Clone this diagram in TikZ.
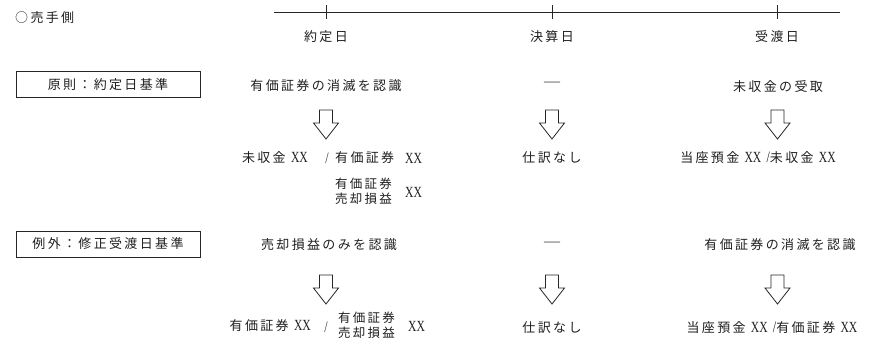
\documentclass[tikz,border=0pt]{standalone}
\usepackage{fontspec}
\setmainfont{Liberation Serif}
\newfontfamily\jp[LetterSpace=18]{Noto Sans CJK JP}
\newfontfamily\xxfont[FakeStretch=0.75]{Liberation Serif}
\newfontfamily\dvfont{DejaVu Sans}
\newcommand\xxmark{{\xxfont\fontsize{15.5}{16}\selectfont XX}}
\newcommand\slashmark{{\xxfont\fontsize{16}{16}\selectfont /}}
\begin{document}
\begin{tikzpicture}[x=1pt,y=-1pt,
  txt/.style={font=\jp\fontsize{13}{16}\selectfont, inner sep=0pt, text=black!88},
  plain/.style={font=\xxfont\fontsize{15.5}{16}\selectfont, inner sep=0pt, text=black!88},
  slashst/.style={font=\xxfont\fontsize{16}{16}\selectfont, inner sep=0pt, text=black!80},
  dashmark/.style={font=\dvfont\fontsize{18}{18}\selectfont, inner sep=0pt, text=black!45},
  labelbox/.style={draw=black!85, line width=0.9pt, minimum width=184pt, minimum height=26pt, inner sep=0pt,
    font=\jp\fontsize{13}{16}\selectfont, text=black!88},
  axis/.style={draw=black!85, line width=0.8pt},
  darr/.pic={\draw[black!85, line width=0.8pt, line join=miter]
     (-6.5,0) -- (6.5,0) -- (6.5,13) -- (12.5,13) -- (0,29) -- (-12.5,13) -- (-6.5,13) -- cycle;}
]
\useasboundingbox (0,0) rectangle (890,349);

% header
\node[txt, anchor=west] (side) at (15,18) {○売手側};

% timeline
\coordinate (tl) at (274,12);
\coordinate (tr) at (840,12);
\coordinate (t1) at (326,12);
\coordinate (t2) at (552,12);
\coordinate (t3) at (777,12);
\draw[axis] (tl) -- (tr);
\foreach \t in {t1,t2,t3}{\draw[axis] ([yshift=7pt]\t) -- ([yshift=-7pt]\t);}
\node[txt] (d1) at (326,37) {約定日};
\node[txt] (d2) at (552,37) {決算日};
\node[txt] (d3) at (777,37) {受渡日};

% row 1
\node[labelbox] (b1) at (108,84.5) {原則：約定日基準};
\node[txt] (h11) at (326,86) {有価証券の消滅を認識};
\node[dashmark] (h12) at (552,85) {—};
\node[txt] (h13) at (778,87) {未収金の受取};

\coordinate (a11) at (326,110);
\coordinate (a12) at (552,110);
\coordinate (a13) at (777.5,110);
\pic at (a11) {darr};
\pic at (a12) {darr};
\pic at (a13) {darr};

\node[txt, anchor=east] (e11a) at (308,158) {未収金\ \xxmark};
\node[slashst] (s11) at (327,158) {/};
\node[txt, anchor=west] (e11b) at (335,158) {有価証券};
\node[plain, anchor=west] (x11b) at (405,158) {XX};
\node[txt, anchor=west, align=left, font=\jp\fontsize{12.5}{15.5}\selectfont] (e11c) at (335,191) {有価証券\\売却損益};
\node[plain, anchor=west] (x11c) at (405,192) {XX};
\node[txt] (e12) at (552,158) {仕訳なし};
\node[txt] (e13) at (758,158) {当座預金\ \xxmark\ \slashmark 未収金\ \xxmark};

% row 2
\node[labelbox] (b2) at (108,244) {例外：修正受渡日基準};
\node[txt] (h21) at (329,245) {売却損益のみを認識};
\node[dashmark] (h22) at (552,245) {—};
\node[txt] (h23) at (780,245) {有価証券の消滅を認識};

\coordinate (a21) at (326,275);
\coordinate (a22) at (552,275);
\coordinate (a23) at (777.5,275);
\pic at (a21) {darr};
\pic at (a22) {darr};
\pic at (a23) {darr};

\node[txt, anchor=east] (e21a) at (311,326) {有価証券\ \xxmark};
\node[slashst] (s21) at (326,327) {/};
\node[txt, anchor=west, align=left, font=\jp\fontsize{12.5}{15}\selectfont] (e21c) at (338,325) {有価証券\\売却損益};
\node[plain, anchor=west] (x21c) at (408,326) {XX};
\node[txt] (e22) at (552,328) {仕訳なし};
\node[txt] (e23) at (772,328) {当座預金\ \xxmark\ \slashmark 有価証券\ \xxmark};
\end{tikzpicture}
\end{document}
